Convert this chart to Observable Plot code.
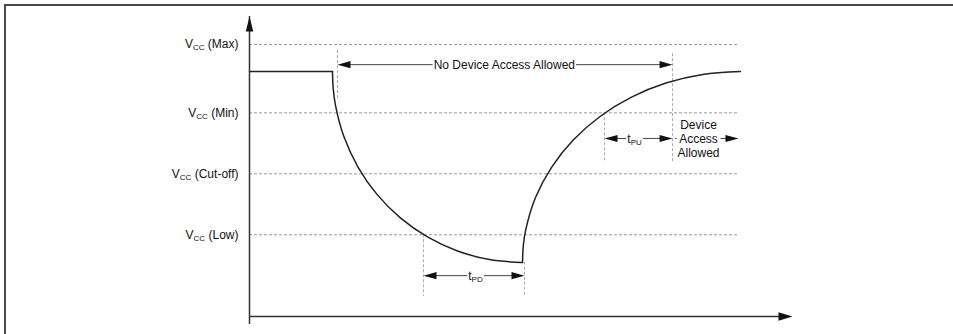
<!DOCTYPE html>
<html>
<head>
<meta charset="utf-8">
<script src="https://cdn.jsdelivr.net/npm/d3@7"></script>
<script src="https://cdn.jsdelivr.net/npm/@observablehq/plot@0.6"></script>
<style>
  html, body { margin: 0; padding: 0; background: #fff; }
  #wrap { position: relative; width: 953px; height: 334px; overflow: hidden; }
  #wrap svg { position: absolute; left: 0; top: 0; }
  #border { position: absolute; left: 4px; top: 4px; right: -10px; bottom: -10px;
            border-top: 2px solid #4a4a4a; border-left: 2px solid #4a4a4a; pointer-events: none; }
</style>
</head>
<body>
<div id="wrap"><div id="border"></div></div>
<script>
// ---- data ----
const levelNames = ["V_{CC} (Max)", "V_{CC} (Min)", "V_{CC} (Cut-off)", "V_{CC} (Low)"];
const levelValues = [4.46, 3.34, 2.34, 1.34];
const levelEnd = 69.46;

const plateauX = [0, 11.79];
const plateauY = [4.016, 4.016];

const fallX = [11.79, 11.89, 12.20, 13.42, 15.41, 18.11, 21.43, 25.28, 29.55, 34.09, 38.78];
const fallY = [4.016, 3.743, 3.472, 2.946, 2.451, 2.003, 1.618, 1.305, 1.074, 0.933, 0.885];

const riseX = [38.78, 38.89, 39.25, 40.64, 42.93, 46.02, 49.84, 54.26, 59.15, 64.38, 69.74];
const riseY = [0.885, 1.157, 1.430, 1.956, 2.451, 2.898, 3.284, 3.597, 3.828, 3.969, 4.016];

const dimLabels = ["No Device Access Allowed", "t_{PU}", "Device\nAccess\nAllowed", "t_{PD}"];
const dimX1 = [12.5, 50.43, 60.09, 24.72];
const dimX2 = [60.09, 60.09, 69.46, 39.06];
const dimY = [4.13, 2.92, 2.92, 0.67];
const dimLeftHead = [true, true, false, true];
const dimLabelX = [36.2, 54.69, 63.78, 32.1];

const guideX = [12.5, 60.09, 50.43, 24.72, 39.06];
const guideY1 = [4.36, 4.31, 3.34, 1.34, 0.89];
const guideY2 = [3.54, 2.52, 2.52, 0.33, 0.33];

const yAxisTop = 4.92;
const xAxisEnd = 77.13;

// ---- tables ----
const levels = levelNames.map((name, i) => ({name, v: levelValues[i]}));
const plateau = plateauX.map((x, i) => ({x, y: plateauY[i]}));
const curve = [
  ...fallX.map((x, i) => ({s: "fall", x, y: fallY[i]})),
  ...riseX.map((x, i) => ({s: "rise", x, y: riseY[i]}))
];
const dims = dimLabels.map((label, i) => ({label, x1: dimX1[i], x2: dimX2[i], y: dimY[i], lx: dimLabelX[i], left: dimLeftHead[i]}));
const heads = [
  ...dims.filter(d => d.left).map(d => ({x: d.x1, y: d.y, rot: -90})),
  ...dims.map(d => ({x: d.x2, y: d.y, rot: 90}))
];
const guides = guideX.map((x, i) => ({x, y1: guideY1[i], y2: guideY2[i]}));

// arrowhead symbol: tip at origin, pointing up
const headSymbol = (aspect) => ({
  draw(ctx, size) {
    const r = Math.sqrt(size / Math.PI);
    const L = 2 * r, w = L * aspect;
    ctx.moveTo(0, 0);
    ctx.lineTo(-w / 2, L);
    ctx.lineTo(w / 2, L);
    ctx.closePath();
  }
});

const ink = "#111";
const chart = Plot.plot({
  width: 953,
  height: 334,
  marginLeft: 249,
  marginRight: 0,
  marginTop: 16,
  marginBottom: 18,
  x: {domain: [0, 100], axis: null},
  y: {domain: [0, yAxisTop], axis: null},
  style: {background: "transparent", fontFamily: "'Liberation Sans', Arial, sans-serif", fontSize: "12px"},
  marks: [
    // dashed level lines
    Plot.ruleY(levels, {y: "v", x1: 0, x2: levelEnd, stroke: "#999", strokeWidth: 1, strokeDasharray: "3,2"}),
    // dashed vertical guides
    Plot.ruleX(guides, {x: "x", y1: "y1", y2: "y2", stroke: "#aaa", strokeWidth: 1, strokeDasharray: "3,2"}),
    // axes
    Plot.ruleX([0], {y1: 0, y2: yAxisTop, insetTop: 8, stroke: "#333", strokeWidth: 1.5}),
    Plot.ruleY([0], {x1: 0, x2: xAxisEnd, insetRight: 8, stroke: "#333", strokeWidth: 1.5}),
    Plot.dot([{x: 0, y: yAxisTop}], {x: "x", y: "y", r: 7.5, symbol: headSymbol(0.5), fill: "#111", stroke: "none"}),
    Plot.dot([{x: xAxisEnd, y: 0}], {x: "x", y: "y", r: 7, symbol: headSymbol(0.62), rotate: 90, fill: "#111", stroke: "none"}),
    // voltage curve
    Plot.line(plateau, {x: "x", y: "y", stroke: "#222", strokeWidth: 1.5}),
    Plot.line(curve, {x: "x", y: "y", z: "s", curve: "catmull-rom", stroke: "#222", strokeWidth: 1.5}),
    // dimension arrows
    Plot.ruleY(dims, {y: "y", x1: "x1", x2: "x2", stroke: "#444", strokeWidth: 1, insetLeft: 3, insetRight: 3}),
    Plot.dot(heads, {x: "x", y: "y", rotate: "rot", r: 6.5, symbol: headSymbol(0.55), fill: "#111", stroke: "none"}),
    Plot.text(dims, {x: "lx", y: "y", text: "label", fill: ink, lineHeight: 1.2, lineAnchor: "middle", textAnchor: "middle"}),
    // level labels
    Plot.text(levels, {x: 0, y: "v", text: "name", dx: -11, textAnchor: "end", fill: ink})
  ]
});

// render _{...} as subscripts
const NS = "http://www.w3.org/2000/svg";
chart.querySelectorAll("text, tspan").forEach(el => {
  if (el.children.length) return;
  const m = el.textContent.match(/^(.*?)_\{(.+?)\}(.*)$/);
  if (!m) return;
  el.textContent = m[1];
  const sub = document.createElementNS(NS, "tspan");
  sub.setAttribute("font-size", "8");
  sub.setAttribute("dy", "2");
  sub.textContent = m[2];
  el.appendChild(sub);
  if (m[3]) {
    const rest = document.createElementNS(NS, "tspan");
    rest.setAttribute("dy", "-2");
    rest.textContent = m[3];
    el.appendChild(rest);
  }
});

document.getElementById("wrap").appendChild(chart);

// white backing behind the dimension labels so the arrow lines break around them
const dimGroup = chart.querySelectorAll('g[aria-label="text"]')[0];
if (dimGroup) {
  dimGroup.querySelectorAll("text").forEach(t => {
    const b = t.getBBox();
    const rect = document.createElementNS(NS, "rect");
    rect.setAttribute("x", b.x - 1);
    rect.setAttribute("y", b.y + 1);
    rect.setAttribute("width", b.width + 2);
    rect.setAttribute("height", Math.max(0, b.height - 2));
    rect.setAttribute("fill", "white");
    const tr = t.getAttribute("transform");
    if (tr) rect.setAttribute("transform", tr);
    t.parentNode.insertBefore(rect, t);
  });
}
</script>
</body>
</html>
